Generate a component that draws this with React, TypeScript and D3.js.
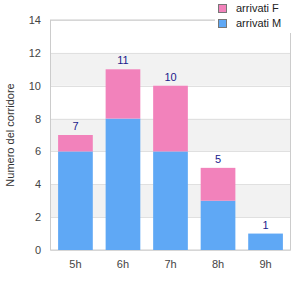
import React from "react";
import * as d3 from "d3";

const categories = ["5h", "6h", "7h", "8h", "9h"];
const maleValues = [6, 8, 6, 3, 1];
const femaleValues = [1, 3, 4, 2, 0];
const yTicks = [0, 2, 4, 6, 8, 10, 12, 14];
const seriesNames = ["arrivati F", "arrivati M"];

const W = 300, H = 300;
const left = 50.5, right = 290.5, top = 20, bottom = 250;
const FONT = "Arial, 'Liberation Sans', sans-serif";
const PINK = "#f282bb";
const BLUE = "#5fa8f5";

export default function App() {
  const x = d3.scaleBand<string>().domain(categories).range([left, right]).paddingInner(0.27).paddingOuter(0.16);
  const y = d3.scaleLinear().domain([0, 14]).range([bottom, top]);
  const bands = [];
  for (let i = 0; i < yTicks.length - 1; i++) {
    if (i % 2 === 1) bands.push([yTicks[i], yTicks[i + 1]]);
  }
  return (
    <svg width={W} height={H} style={{ position: "absolute", left: 0, top: 0, background: "#fff" }} fontFamily={FONT}>
      <rect x={0} y={0} width={W} height={H} fill="#fff" />
      {bands.map(([a, b], i) => (
        <rect key={i} x={left} y={y(b)} width={right - left} height={y(a) - y(b)} fill="#f2f2f2" />
      ))}
      {yTicks.map((t) => (
        <line key={t} x1={left} x2={right} y1={Math.round(y(t)) + 0.5} y2={Math.round(y(t)) + 0.5} stroke="#e0e0e0" />
      ))}
      <rect x={left} y={top} width={right - left} height={bottom - top} fill="none" stroke="#cccccc" />
      {categories.map((c, i) => {
        const bx = x(c)!;
        const bw = x.bandwidth();
        const m = maleValues[i];
        const f = femaleValues[i];
        return (
          <g key={c}>
            <rect x={bx} y={y(m)} width={bw} height={y(0) - y(m)} fill={BLUE} />
            {f > 0 && <rect x={bx} y={y(m + f)} width={bw} height={y(m) - y(m + f)} fill={PINK} />}
            <text x={bx + bw / 2} y={y(m + f) - 5} textAnchor="middle" fontSize={11} fill="#1a1a8c">{m + f}</text>
            <text x={bx + bw / 2} y={bottom + 18} textAnchor="middle" fontSize={11} fill="#444">{c}</text>
          </g>
        );
      })}
      {yTicks.map((t) => (
        <text key={t} x={41} y={y(t) + 4} textAnchor="end" fontSize={11} fill="#444">{t}</text>
      ))}
      <text transform={`translate(10,${(top + bottom) / 2}) rotate(-90)`} textAnchor="middle" dy="0.35em" fontSize={11} fill="#333">Numero del corridore</text>
      <rect x={215} y={0} width={85} height={33} fill="#fff" />
      {seriesNames.map((s, i) => (
        <g key={s}>
          <rect x={218.5} y={4.5 + i * 15} width={8} height={8} fill={i === 0 ? PINK : BLUE} stroke="#777" />
          <text x={236} y={12 + i * 15} fontSize={11} fill="#222">{s}</text>
        </g>
      ))}
    </svg>
  );
}
